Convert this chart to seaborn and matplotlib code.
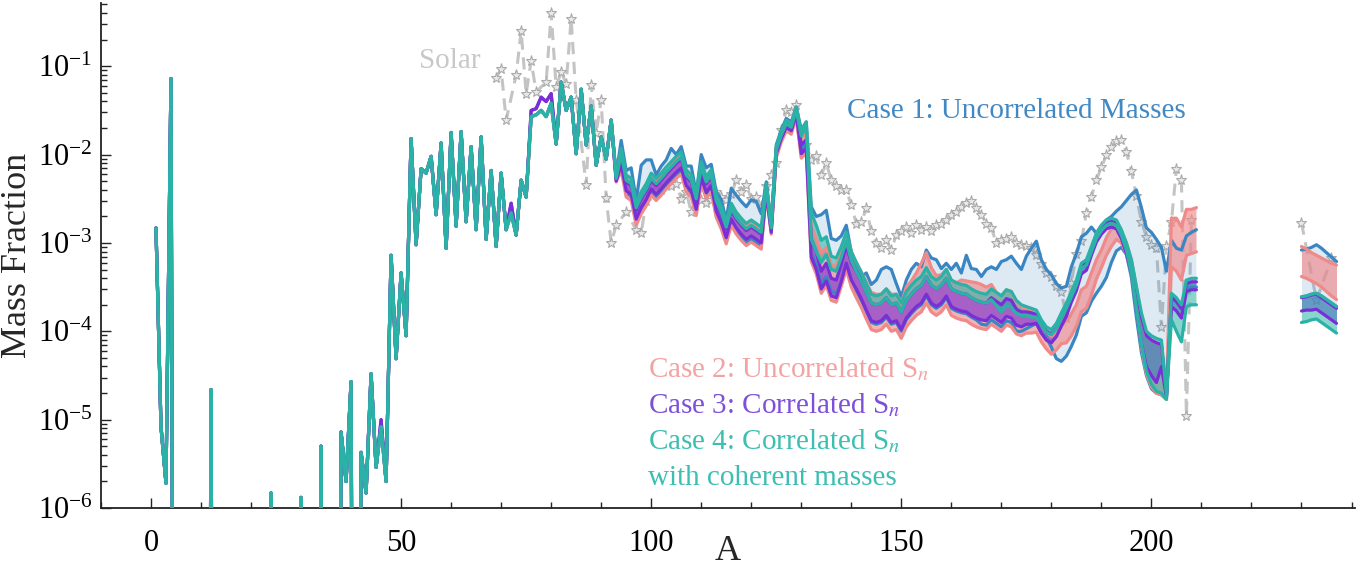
import numpy as np
import matplotlib
matplotlib.use("Agg")
import matplotlib.pyplot as plt
import seaborn as sns
from matplotlib.ticker import MultipleLocator, LogLocator, NullFormatter

sns.set_style("ticks")
plt.rcParams["font.family"] = ["Liberation Serif", "DejaVu Serif"]
plt.rcParams["mathtext.fontset"] = "stix"

# mass numbers
A_main = np.arange(1, 210)
A_tail = np.arange(230, 238)

# log10 mass fraction of the Case 4 upper edge, A = 1..209 (-20 = far below the axis)
base_log = [
    -2.83, -5.08, -5.72, -1.14, -20, -20, -20, -20, -20, -20,
    -20, -4.66, -20, -20, -20, -20, -20, -20, -20, -20,
    -20, -20, -20, -5.83, -20, -20, -20, -20, -20, -5.88,
    -20, -20, -20, -5.30, -20, -20, -20, -5.14, -5.70, -4.57,
    -20, -5.37, -5.83, -4.48, -5.54, -5.08, -5.70, -3.14, -4.31, -3.34,
    -4.05, -1.82, -3.02, -2.16, -2.21, -2.02, -2.68, -1.87, -3.06, -1.75,
    -2.81, -1.74, -2.76, -1.91, -2.85, -1.80, -2.96, -2.18, -3.04, -2.21,
    -2.85, -2.66, -2.91, -2.29, -2.48, -1.57, -1.55, -1.50, -1.57, -1.42,
    -1.88, -1.18, -1.50, -1.35, -1.99, -1.26, -1.89, -1.45, -2.12, -1.80,
    -2.05,
    -1.61, -2.25, -1.93, -2.23, -2.27, -2.55, -2.42, -2.33, -2.21, -2.27,
    -2.21, -2.14, -2.08, -2.02, -1.97, -2.17, -2.23, -2.44, -2.08, -2.25,
    -2.17, -2.46, -2.59, -2.76, -2.55, -2.65, -2.72, -2.78, -2.74, -2.78,
    -2.82, -2.33, -2.78, -1.91, -1.74, -1.61, -1.65, -1.46, -1.74, -1.63,
    -2.66, -2.80, -2.97, -2.93, -3.15, -3.17, -3.04, -2.88, -3.10, -3.22,
    -3.33, -3.46, -3.58, -3.60, -3.58, -3.52, -3.60, -3.58, -3.68, -3.55,
    -3.48, -3.42, -3.38, -3.28, -3.38, -3.42, -3.38, -3.30, -3.42, -3.45,
    -3.47, -3.48, -3.52, -3.55, -3.57, -3.58, -3.52, -3.56, -3.60, -3.53,
    -3.55, -3.65, -3.70, -3.72, -3.74, -3.76, -3.87, -3.95, -3.98, -3.91,
    -3.79, -3.68, -3.55, -3.42, -3.23, -3.19, -3.04, -2.89, -2.80, -2.74,
    -2.72, -2.74, -2.85, -3.00, -3.19, -3.49, -3.79, -4.00, -4.05, -4.08,
    -4.10, -4.72, -3.57, -3.62, -3.70, -3.42, -3.40, -3.40,
]

# band edges from A = 92 on, in dex relative to base_log
case4_lo = [
    0, -0.02, -0.06, -0.06, -0.06, -0.05, -0.06, -0.06, -0.06, -0.06,
    -0.06, -0.06, -0.06, -0.06, -0.06, -0.06, -0.06, -0.06, -0.06, -0.06,
    -0.06, -0.06, -0.06, -0.06, -0.06, -0.06, -0.06, -0.06, -0.06, -0.06,
    -0.06, -0.04, -0.05, -0.04, -0.04, -0.04, -0.04, -0.04, -0.05, -0.05,
    -0.30, -0.30, -0.25, -0.20, -0.15, -0.15, -0.12, -0.10, -0.10, -0.10,
    -0.10, -0.10, -0.10, -0.10, -0.10, -0.10, -0.10, -0.10, -0.10, -0.10,
    -0.10, -0.10, -0.10, -0.10, -0.10, -0.10, -0.10, -0.10, -0.10, -0.10,
    -0.10, -0.10, -0.10, -0.10, -0.10, -0.10, -0.12, -0.15, -0.18, -0.18,
    -0.18, -0.15, -0.12, -0.10, -0.10, -0.08, -0.06, -0.06, -0.06, -0.06,
    -0.06, -0.06, -0.06, -0.06, -0.06, -0.06, -0.06, -0.06, -0.06, -0.06,
    -0.06, -0.06, -0.06, -0.08, -0.15, -0.25, -0.35, -0.45, -0.55, -0.60,
    -0.60, -0.05, -0.30, -0.38, -0.42, -0.30, -0.30, -0.30,
]
case3_hi = [
    0, -0.03, -0.08, -0.08, -0.08, -0.08, -0.08, -0.08, -0.08, -0.08,
    -0.08, -0.08, -0.08, -0.08, -0.08, -0.08, -0.08, -0.08, -0.08, -0.08,
    -0.08, -0.08, -0.08, -0.08, -0.08, -0.08, -0.08, -0.08, -0.08, -0.08,
    -0.08, -0.03, -0.03, -0.03, -0.03, -0.03, -0.03, -0.03, -0.15, -0.20,
    -0.30, -0.30, -0.35, -0.30, -0.25, -0.25, -0.20, -0.15, -0.12, -0.10,
    -0.10, -0.10, -0.10, -0.10, -0.10, -0.10, -0.10, -0.10, -0.10, -0.10,
    -0.10, -0.10, -0.10, -0.10, -0.10, -0.10, -0.10, -0.10, -0.10, -0.10,
    -0.10, -0.10, -0.10, -0.10, -0.10, -0.10, -0.10, -0.10, -0.10, -0.10,
    -0.10, -0.10, -0.08, -0.06, -0.05, -0.05, -0.05, -0.05, -0.05, -0.05,
    -0.04, -0.04, -0.03, -0.03, -0.03, -0.03, -0.03, -0.02, -0.02, -0.02,
    -0.02, -0.02, -0.02, -0.02, -0.03, -0.04, -0.05, -0.05, -0.05, -0.05,
    -0.05, -0.02, -0.04, -0.04, -0.04, -0.04, -0.04, -0.04,
]
case3_lo = [
    0, -0.05, -0.18, -0.18, -0.18, -0.18, -0.18, -0.18, -0.18, -0.18,
    -0.18, -0.18, -0.18, -0.18, -0.18, -0.18, -0.18, -0.18, -0.18, -0.18,
    -0.18, -0.18, -0.18, -0.18, -0.18, -0.18, -0.18, -0.18, -0.18, -0.18,
    -0.18, -0.10, -0.10, -0.08, -0.08, -0.08, -0.08, -0.08, -0.25, -0.30,
    -0.50, -0.50, -0.55, -0.50, -0.45, -0.45, -0.40, -0.35, -0.32, -0.30,
    -0.30, -0.30, -0.30, -0.30, -0.30, -0.30, -0.30, -0.30, -0.30, -0.30,
    -0.30, -0.30, -0.30, -0.30, -0.30, -0.30, -0.30, -0.30, -0.30, -0.30,
    -0.30, -0.30, -0.30, -0.30, -0.30, -0.30, -0.30, -0.30, -0.30, -0.30,
    -0.30, -0.28, -0.25, -0.20, -0.18, -0.15, -0.15, -0.15, -0.15, -0.15,
    -0.15, -0.15, -0.12, -0.12, -0.12, -0.12, -0.10, -0.10, -0.10, -0.10,
    -0.10, -0.10, -0.10, -0.12, -0.15, -0.25, -0.35, -0.40, -0.45, -0.50,
    -0.30, -0.02, -0.15, -0.15, -0.15, -0.13, -0.13, -0.13,
]
case2_hi = [
    0, 0, -0.03, -0.03, -0.03, -0.03, -0.03, -0.03, -0.03, -0.03,
    -0.03, -0.03, -0.03, -0.03, -0.03, -0.03, -0.03, -0.03, -0.03, -0.03,
    -0.03, -0.03, -0.03, -0.03, -0.03, -0.03, -0.03, -0.03, -0.03, -0.03,
    -0.03, -0.02, -0.02, -0.02, -0.02, -0.02, -0.02, -0.02, -0.08, -0.10,
    -0.15, -0.15, -0.15, -0.12, -0.10, -0.10, -0.05, -0.03, 0.0, 0.0,
    0.0, 0.02, 0.02, 0.02, 0.0, 0.0, 0.02, 0.0, 0.0, 0.05,
    0.05, 0.08, 0.15, 0.17, 0.10, 0.05, 0.02, 0.0, 0.0, 0.0,
    0.05, 0.05, 0.08, 0.10, 0.10, 0.08, 0.05, 0.0, 0.0, 0.0,
    0.0, -0.02, -0.02, -0.03, -0.03, -0.05, -0.05, -0.05, -0.08, -0.10,
    -0.15, -0.20, -0.25, -0.28, -0.30, -0.30, -0.30, -0.30, -0.28, -0.20,
    -0.12, -0.05, -0.02, 0.0, 0.0, -0.02, -0.05, -0.05, -0.05, -0.05,
    -0.05, 0.0, 0.85, 0.90, 0.88, 0.80, 0.78, 0.80,
]
case2_lo = [
    0, -0.06, -0.25, -0.25, -0.25, -0.25, -0.25, -0.25, -0.25, -0.25,
    -0.25, -0.25, -0.25, -0.25, -0.25, -0.25, -0.25, -0.25, -0.25, -0.25,
    -0.25, -0.25, -0.25, -0.25, -0.25, -0.25, -0.25, -0.25, -0.25, -0.25,
    -0.25, -0.12, -0.12, -0.12, -0.12, -0.12, -0.12, -0.12, -0.30, -0.35,
    -0.55, -0.55, -0.60, -0.55, -0.50, -0.50, -0.45, -0.42, -0.40, -0.40,
    -0.40, -0.40, -0.40, -0.40, -0.40, -0.40, -0.40, -0.40, -0.40, -0.40,
    -0.40, -0.40, -0.40, -0.40, -0.40, -0.40, -0.40, -0.40, -0.40, -0.40,
    -0.40, -0.40, -0.40, -0.40, -0.40, -0.40, -0.40, -0.40, -0.40, -0.40,
    -0.40, -0.38, -0.35, -0.30, -0.28, -0.25, -0.25, -0.25, -0.28, -0.30,
    -0.35, -0.45, -0.50, -0.52, -0.55, -0.55, -0.55, -0.52, -0.48, -0.40,
    -0.32, -0.22, -0.15, -0.12, -0.15, -0.25, -0.38, -0.48, -0.58, -0.62,
    -0.62, -0.05, 0.30, 0.30, 0.28, 0.28, 0.28, 0.30,
]
case1_hi = [
    0, 0.02, 0.09, 0.05, 0.12, 0.03, 0.30, 0.27, 0.15, 0.04,
    0.08, 0.08, 0.15, 0.02, 0.06, 0.04, 0.10, 0.0, 0.08, 0.10,
    0.06, 0.04, 0.08, 0.02, 0.17, 0.19, 0.19, 0.19, 0.23, 0.25,
    0.15, 0.02, 0.0, 0.02, 0.02, 0.02, 0.02, 0.0, 0.02, 0.0,
    0.07, 0.10, 0.29, 0.30, 0.20, 0.20, 0.12, 0.08, 0.0, -0.05,
    -0.05, 0.12, 0.11, 0.18, 0.28, 0.25, 0.30, 0.12, 0.07, 0.13,
    0.18, 0.19, 0.11, 0.20, 0.21, 0.23, 0.09, 0.07, 0.12, 0.22,
    0.13, 0.34, 0.23, 0.25, 0.19, 0.28, 0.25, 0.26, 0.39, 0.34,
    0.40, 0.42, 0.40, 0.57, 0.68, 0.78, 0.68, 0.65, 0.62, 0.45,
    0.28, 0.19, 0.28, 0.30, 0.30, 0.30, 0.22, 0.0, 0.0, 0.0,
    0.02, 0.10, 0.26, 0.48, 0.74, 1.09, 1.19, 1.17, 1.17, 1.12,
    1.05, 1.40, 0.60, 0.56, 0.62, 0.50, 0.52, 0.55,
]
case1_lo = [
    0, -0.02, -0.20, -0.20, -0.20, -0.17, -0.22, -0.22, -0.22, -0.22,
    -0.22, -0.22, -0.22, -0.22, -0.22, -0.22, -0.22, -0.22, -0.22, -0.22,
    -0.22, -0.22, -0.22, -0.22, -0.22, -0.22, -0.22, -0.22, -0.22, -0.22,
    -0.20, -0.08, -0.08, -0.08, -0.08, -0.08, -0.08, -0.08, -0.20, -0.25,
    -0.45, -0.45, -0.50, -0.45, -0.40, -0.40, -0.40, -0.35, -0.32, -0.32,
    -0.32, -0.32, -0.32, -0.32, -0.32, -0.32, -0.32, -0.32, -0.32, -0.32,
    -0.32, -0.32, -0.32, -0.32, -0.32, -0.32, -0.32, -0.32, -0.32, -0.32,
    -0.32, -0.32, -0.32, -0.32, -0.35, -0.35, -0.35, -0.35, -0.35, -0.35,
    -0.35, -0.35, -0.30, -0.25, -0.20, -0.15, -0.15, -0.12, -0.20, -0.40,
    -0.55, -0.60, -0.62, -0.62, -0.60, -0.60, -0.62, -0.68, -0.69, -0.65,
    -0.50, -0.35, -0.20, -0.13, -0.20, -0.35, -0.45, -0.50, -0.60, -0.62,
    -0.62, -0.05, -0.05, -0.05, -0.05, -0.10, -0.10, -0.10,
]

# where Case 3 sits above the others on the low-A side
purple_A = [46, 72, 76, 77, 78, 79, 80]
purple_dex = [0.08, 0.11, 0.07, 0.07, 0.15, 0.17, 0.11]

# heaviest nuclei, A = 230..237 (log10 mass fraction)
tail_case1 = ([-3.61, -3.60, -3.58, -3.57, -3.60, -3.64, -3.68, -3.72],
              [-3.08, -3.07, -3.05, -3.02, -3.06, -3.11, -3.16, -3.21])
tail_case2 = ([-3.38, -3.40, -3.43, -3.46, -3.50, -3.55, -3.60, -3.64],
              [-3.04, -3.07, -3.11, -3.14, -3.17, -3.20, -3.23, -3.25])
tail_case3 = ([-3.77, -3.76, -3.76, -3.75, -3.79, -3.83, -3.87, -3.91],
              [-3.62, -3.61, -3.59, -3.58, -3.62, -3.66, -3.70, -3.74])
tail_case4 = ([-3.90, -3.89, -3.87, -3.86, -3.90, -3.94, -3.98, -4.02],
              [-3.61, -3.60, -3.58, -3.57, -3.60, -3.64, -3.68, -3.72])

# solar r-process abundances
solar_A = [69, 70, 71, 73, 74, 75, 76, 77, 79, 80, 81, 82, 83, 84, 85, 87, 88, 89, 90,
           91, 92, 93, 95, 97, 98, 99, 100, 101, 102, 104, 105, 106, 107, 108, 109,
           110, 111, 112, 113, 114, 115, 116, 117, 118, 119, 120, 121, 122, 123, 124,
           125, 126, 127, 128, 129, 130, 131, 132, 133, 134, 135, 136, 137, 138, 139,
           140, 141, 142, 143, 144, 145, 146, 147, 148, 149, 150, 151, 152, 153, 154,
           155, 156, 157, 158, 159, 160, 161, 162, 163, 164, 165, 166, 167, 168, 169,
           170, 171, 172, 173, 174, 175, 176, 177, 178, 179, 180, 181, 182, 183, 184,
           185, 186, 187, 188, 189, 190, 191, 192, 193, 194, 195, 196, 197, 198, 199,
           200, 201, 202, 203, 204, 205, 206, 207, 208]
solar_log = [-1.13, -1.03, -1.61, -1.10, -0.60, -1.31, -0.94, -1.29, -1.18, -0.40,
             -1.24, -1.06, -1.20, -0.46, -1.38, -2.34, -1.21, -1.76, -1.38,
             -2.49, -3.00, -2.80, -2.65, -2.85, -2.89, -2.53, -2.45, -2.34, -2.40,
             -2.36, -2.33, -2.50, -2.42, -2.65, -2.50,
             -2.51, -2.55, -2.51, -2.42, -2.48, -2.51, -2.45, -2.29, -2.42, -2.34,
             -2.50, -2.48, -2.59, -2.36, -2.23,
             -2.10, -1.72, -1.50, -1.52, -1.44, -1.75, -1.89, -2.06, -2.02, -2.23,
             -2.10, -2.29, -2.35, -2.40, -2.40,
             -2.57, -2.78, -2.76, -2.61, -2.87, -3.00, -3.06, -2.97, -3.08, -2.91,
             -2.87, -2.82, -2.89, -2.80, -2.85,
             -2.82, -2.87, -2.80, -2.78, -2.74, -2.68, -2.65, -2.59, -2.55, -2.53,
             -2.61, -2.68, -2.78, -2.83, -3.00,
             -2.97, -2.95, -2.93, -3.00, -3.02, -3.04, -3.06, -3.14, -3.24, -3.34,
             -3.38, -3.49, -3.55, -3.85, -3.45,
             -3.12, -2.98, -2.66, -2.48, -2.29, -2.14, -2.01, -1.91, -1.85, -1.84,
             -1.97, -2.19, -2.47, -2.76, -2.93,
             -3.02, -3.06, -3.95, -3.04, -2.76, -2.16, -2.29, -4.96, -2.74]
solar_tail_A = [230, 233, 236]
solar_tail_log = [-2.77, -3.65, -3.17]

colors = {1: "#3a86c2", 2: "#f08a8a", 3: "#7a2fd6", 4: "#2bb2a7"}
fill_alpha = {1: 0.17, 2: 0.65, 3: 0.6, 4: 0.55}

base = np.array(base_log)
pad = np.zeros(91)
shift3 = np.zeros(len(A_main))
for a, d in zip(purple_A, purple_dex):
    shift3[a - 1] = d


def edge(off, extra=0.0):
    return 10 ** (base + np.concatenate([pad, off]) + extra)


main_bands = {
    1: (edge(case1_lo), edge(case1_hi)),
    2: (edge(case2_lo), edge(case2_hi)),
    3: (edge(case3_lo, shift3), edge(case3_hi, shift3)),
    4: (edge(case4_lo), edge(np.zeros(118))),
}
tail_bands = {1: tail_case1, 2: tail_case2, 3: tail_case3, 4: tail_case4}

fig = plt.figure(figsize=(13.68, 5.73), dpi=100)
ax = fig.add_axes([0.0738, 0.1134, 0.9167, 0.8814])
ax.set_yscale("log")

# Solar pattern
for xs, ys in [(solar_A, solar_log), (solar_tail_A, solar_tail_log)]:
    sns.lineplot(x=xs, y=10 ** np.array(ys), ax=ax, color="#c4c4c4", lw=2.2,
                 linestyle=(0, (4, 2.5)), marker="*", markersize=8,
                 markerfacecolor="#e8e8e8", markeredgecolor="#aaaaaa",
                 markeredgewidth=0.8, estimator=None, sort=False, zorder=1)

# fills first, then edges on top
for k in [1, 2, 3, 4]:
    lo, hi = main_bands[k]
    ax.fill_between(A_main, lo, hi, color=colors[k], alpha=fill_alpha[k], lw=0, zorder=2)
    tlo, thi = tail_bands[k]
    ax.fill_between(A_tail, 10 ** np.array(tlo), 10 ** np.array(thi),
                    color=colors[k], alpha=fill_alpha[k], lw=0, zorder=2)

for k in [1, 2, 3, 4]:
    lo, hi = main_bands[k]
    tlo, thi = tail_bands[k]
    for xs, ys in [(A_main, lo), (A_main, hi),
                   (A_tail, 10 ** np.array(tlo)), (A_tail, 10 ** np.array(thi))]:
        sns.lineplot(x=xs, y=ys, ax=ax, color=colors[k], lw=2.3,
                     estimator=None, sort=False, zorder=3)

ax.set_xlim(-10, 240.7)
ax.set_ylim(1e-6, 0.52)
ax.xaxis.set_major_locator(MultipleLocator(50))
ax.xaxis.set_minor_locator(MultipleLocator(10))
ax.yaxis.set_major_locator(LogLocator(base=10, numticks=10))
ax.yaxis.set_minor_locator(LogLocator(base=10, subs=np.arange(2, 10), numticks=20))
ax.yaxis.set_minor_formatter(NullFormatter())
ax.tick_params(which="both", direction="in", width=1, colors="#222222", labelcolor="black")
ax.tick_params(which="major", length=7, labelsize=22)
ax.tick_params(axis="x", which="major", pad=15)
ax.tick_params(axis="y", which="major", pad=6)
ax.tick_params(which="minor", length=4)
ax.spines[["top", "right"]].set_visible(False)
for s in ["left", "bottom"]:
    ax.spines[s].set_linewidth(1.3)
    ax.spines[s].set_color("#222222")

ax.set_xlabel("A", fontsize=26)
ax.set_ylabel("Mass Fraction", fontsize=26)
ax.xaxis.set_label_coords(0.5, -0.053)
ax.yaxis.set_label_coords(-0.053, 0.5)

ax.text(0.254, 0.871, "Solar", transform=ax.transAxes, fontsize=21, color="#c8c8c8")
ax.text(0.595, 0.772, "Case 1: Uncorrelated Masses", transform=ax.transAxes,
        fontsize=21, color="#4289c4")
ax.text(0.436, 0.259, "Case 2: Uncorrelated S$_n$", transform=ax.transAxes,
        fontsize=21, color="#f4a3a3")
ax.text(0.436, 0.188, "Case 3: Correlated S$_n$", transform=ax.transAxes,
        fontsize=21, color="#7e4fd9")
ax.text(0.436, 0.117, "Case 4: Correlated S$_n$", transform=ax.transAxes,
        fontsize=21, color="#3cbfb2")
ax.text(0.436, 0.046, "with coherent masses", transform=ax.transAxes,
        fontsize=21, color="#3cbfb2")

fig.savefig("out.png", dpi=100)
